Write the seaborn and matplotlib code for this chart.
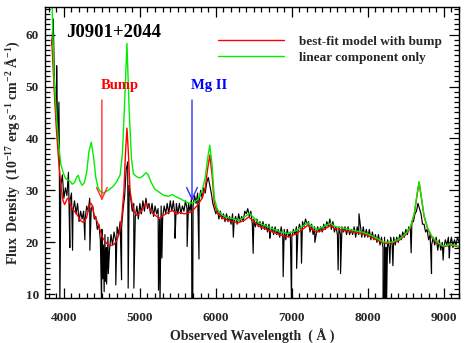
import numpy as np
import pandas as pd
import matplotlib
matplotlib.use("Agg")
import matplotlib.pyplot as plt
import seaborn as sns
from matplotlib.ticker import MultipleLocator

# ---------------- data ----------------
wl_start, wl_step = 3840, 20
flux = [
    58, 63, 48, 45, 38, 37, 31, 33, 28.5, 30.5,
    29, 33.5, 28, 29.5, 26, 28, 25.5, 27.5, 24, 26,
    24.5, 26, 24.5, 27, 26, 28.5, 26.5, 27, 24.5, 25,
    22.5, 23.5, 20.5, 22.5, 19.5, 21.5, 19, 21, 18.5, 21.5,
    19.5, 22, 20.5, 23, 21.5, 24, 23, 26.5, 29, 34,
    35.5, 31, 28.5, 26, 27.5, 25, 27, 24.5, 27.5, 25.5,
    28, 26, 28.5, 26.5, 27.5, 25.5, 27.5, 25, 27, 25.5,
    26.5, 24.5, 27, 25, 27, 25.5, 27.5, 25.5, 28, 26,
    28, 25.5, 27.5, 25.5, 27.5, 25.5, 27, 26, 28, 26.5,
    27.5, 26, 28.5, 27, 29, 27.5, 29.5, 28, 30, 28.5,
    30.5, 29.5, 31.5, 32.5, 31, 29.5, 27.5, 26.5, 25.5, 26.5,
    24.5, 26, 24.5, 25.5, 24, 25.5, 24, 25, 23.5, 25.5,
    24, 25, 23.5, 25.5, 24, 25, 24, 26, 25.5, 26.5,
    25, 26, 23.5, 24.5, 23, 24.5, 23, 24, 22.5, 24,
    22.5, 23.5, 22, 23.5, 22, 23, 21.5, 23, 21.5, 22.5,
    21, 23, 21, 22.5, 20.5, 22.5, 21, 22, 21, 22.5,
    21.5, 23, 22, 23.5, 22.5, 24, 23, 24.5, 23.5, 24,
    22, 23.5, 21.5, 23, 21.5, 23, 22, 23, 22, 23.5,
    22.5, 24, 23, 24.5, 22.5, 24, 22, 23, 21.5, 23,
    21.5, 23, 22, 23, 21.5, 23, 21.5, 22.5, 21.5, 23,
    21, 23, 21.5, 23.5, 21, 23, 21, 22.5, 21, 22.5,
    20.5, 22, 20.5, 21.5, 20, 21.5, 19.5, 21, 19, 21,
    19, 20.5, 19, 21, 19.5, 21, 19.5, 21, 20, 21.5,
    20.5, 22, 21, 22.5, 21.5, 23, 22.5, 24, 24, 25.5,
    26, 27.5, 26.5, 25.5, 23.5, 23.5, 22, 22.5, 20.5, 21.5,
    19.5, 21, 19.5, 21, 18.5, 20.5, 18.5, 20, 19, 20.5,
    19.5, 21, 19.5, 21, 19, 20.5, 19.5, 21, 20,
]
spike_wl = [3905, 3935, 3947, 4078, 4114, 4276, 4342, 4496, 4512, 4530,
            4548, 4562, 4585, 4683, 4759, 4846, 4921, 5245, 5265, 5290,
            5463, 5622, 5684, 5690, 5696, 5778, 6230, 6491, 6710, 6886,
            6996, 7063, 7127, 7303, 7609, 7641, 7884, 8201, 8215, 8232,
            8246, 8290, 8330, 8570, 8838, 8991, 9073]
spike_flux = [54, 47, 8, 19, 18.5, 20.5, 18.5, 8, 13, 10.5,
              12.5, 12, 14, 11.8, 12.8, 11.2, 11.2, 10.8, 8, 17,
              20.8, 19.2, 8, 8, 8, 16.8, 21, 17.9, 20.8, 13.4,
              8, 15, 16, 20, 14.7, 14, 25.5, 8, 8, 8,
              8, 16, 15.5, 18, 14, 16.6, 17]

red_wl = [3840, 3870, 3900, 3930, 3960, 3990, 4010, 4040, 4060, 4080,
          4110, 4150, 4180, 4220, 4260, 4300, 4330, 4350, 4370, 4400,
          4430, 4460, 4500, 4540, 4580, 4620, 4660, 4700, 4730, 4760,
          4790, 4810, 4830, 4850, 4870, 4900, 4930, 4960, 5000, 5040,
          5080, 5110, 5150, 5200, 5260, 5320, 5380, 5430, 5480, 5530,
          5580, 5640, 5700, 5760, 5820, 5860, 5890, 5920, 5950, 5980,
          6020, 6080, 6150, 6220, 6300, 6380, 6430, 6480, 6560, 6650,
          6750, 6850, 6950, 7050, 7150, 7210, 7270, 7330, 7400, 7470,
          7510, 7560, 7650, 7750, 7850, 7950, 8050, 8130, 8200, 8260,
          8330, 8420, 8500, 8560, 8610, 8650, 8675, 8700, 8740, 8790,
          8850, 8920, 8990, 9040, 9080, 9120, 9200]
red_flux = [59, 50, 42, 36, 31, 28, 27.3, 28.3, 28.6, 27.5,
            26.5, 25.8, 25.2, 24.2, 23.8, 24.8, 26.8, 27.6, 27.2, 25.2,
            24.3, 23.2, 21.2, 20.2, 19.6, 19.4, 19.6, 20.5, 21.8, 24.5,
            30, 37, 42, 37, 30, 27.2, 25.8, 25.2, 25.6, 26.5,
            27.6, 27, 25.9, 25.2, 24.7, 25.3, 25.8, 26.2, 25.4, 25.8,
            25.5, 25.6, 26.2, 27.2, 28.5, 30.5, 34, 36.8, 33, 27.5,
            25.6, 24.8, 24.3, 24.0, 23.8, 24.3, 24.9, 24.3, 23.2, 22.6,
            22.0, 21.4, 21.1, 21.6, 22.6, 23.3, 22.4, 22.0, 22.3, 22.9,
            23.3, 22.7, 22.4, 22.1, 21.9, 21.6, 21.0, 20.4, 19.9, 19.8,
            19.9, 20.5, 21.5, 22.8, 25.3, 29.3, 31.5, 29.0, 25.0, 22.5,
            20.8, 19.8, 19.2, 19.3, 19.6, 19.4, 19.1]

green_wl = [3840, 3870, 3900, 3930, 3960, 3990, 4020, 4050, 4080, 4110,
            4140, 4170, 4190, 4210, 4240, 4270, 4300, 4330, 4360, 4390,
            4420, 4450, 4480, 4520, 4560, 4600, 4650, 4700, 4740, 4770,
            4800, 4830, 4860, 4890, 4915, 4960, 5000, 5040, 5080, 5110,
            5150, 5200, 5260, 5320, 5380, 5430, 5470, 5520, 5580, 5640,
            5700, 5760, 5820, 5860, 5890, 5920, 5950, 5980, 6020, 6080,
            6140, 6220, 6300, 6380, 6440, 6490, 6560, 6650, 6750, 6850,
            6950, 7050, 7150, 7210, 7270, 7330, 7400, 7470, 7510, 7560,
            7650, 7750, 7850, 7950, 8050, 8130, 8200, 8260, 8330, 8420,
            8500, 8560, 8610, 8650, 8675, 8700, 8740, 8790, 8850, 8920,
            8990, 9040, 9080, 9120, 9200]
green_flux = [68, 52, 45, 39, 35, 33.5, 32.3, 32.0, 31.8, 31.2,
              31.5, 32.6, 32.9, 31.8, 31.0, 31.5, 33.5, 37.5, 39.3, 36.5,
              32.5, 30.5, 29.8, 29.5, 29.8, 30.2, 30.8, 31.8, 33.0, 37.0,
              47, 58.3, 45, 36, 33.2, 32.6, 32.4, 32.8, 33.4, 33.0,
              31.5, 30.2, 29.6, 29.0, 28.9, 29.2, 28.8, 28.5, 28.0, 27.6,
              27.6, 28.2, 30, 32.5, 36, 38.7, 35, 28.5, 26.3, 25.3,
              24.8, 24.6, 24.2, 24.9, 25.6, 24.9, 23.8, 23.2, 22.6, 22.0,
              21.7, 22.2, 23.2, 23.8, 23.0, 22.5, 22.9, 23.4, 23.7, 23.1,
              22.8, 22.5, 22.2, 21.9, 21.3, 20.7, 20.1, 20.0, 20.1, 20.7,
              21.7, 23.0, 25.5, 29.5, 31.7, 29.2, 25.2, 22.7, 21.0, 20.0,
              19.3, 19.4, 19.7, 19.5, 19.2]

bump_wl, mg2_wl = 4500, 5686
arrow_tip, arrow_top, label_y = 28.0, 47.4, 50.1

# ---------------- plotting ----------------
sns.set_theme(style="ticks")
plt.rcParams["font.family"] = ["Liberation Serif", "DejaVu Serif"]
plt.rcParams["font.weight"] = "bold"
plt.rcParams["axes.labelweight"] = "bold"
plt.rcParams["mathtext.fontset"] = "custom"
plt.rcParams["mathtext.rm"] = "Liberation Serif:bold"
plt.rcParams["mathtext.it"] = "Liberation Serif:bold"
plt.rcParams["mathtext.bf"] = "Liberation Serif:bold"
plt.rcParams["mathtext.default"] = "bf"

fig = plt.figure(figsize=(4.69, 3.43), dpi=100)
ax = fig.add_axes([0.0949, 0.1312, 0.8838, 0.8484])

wl = [wl_start + wl_step * i for i in range(len(flux))]
spec = pd.DataFrame({"wl": wl + spike_wl, "flux": flux + spike_flux}).sort_values("wl")
red = pd.DataFrame({"wl": red_wl, "flux": red_flux})
green = pd.DataFrame({"wl": green_wl, "flux": green_flux})

sns.lineplot(data=spec, x="wl", y="flux", color="black", lw=0.85,
             estimator=None, sort=False, ax=ax, legend=False)
sns.lineplot(data=red, x="wl", y="flux", color="#ff0000", lw=1.0,
             estimator=None, sort=False, ax=ax, label="best-fit model with bump")
sns.lineplot(data=green, x="wl", y="flux", color="#00ee00", lw=1.0,
             estimator=None, sort=False, ax=ax, label="linear component only")

ax.set_xlim(3745, 9200)
ax.set_ylim(9.3, 65.3)

# annotations
arrow_style = "->,head_length=0.7,head_width=0.32"
ax.annotate("", xy=(bump_wl, arrow_tip), xytext=(bump_wl, arrow_top),
            arrowprops=dict(arrowstyle=arrow_style, color="#ff3030", lw=1.0,
                            shrinkA=0, shrinkB=0))
ax.annotate("", xy=(mg2_wl, arrow_tip), xytext=(mg2_wl, arrow_top),
            arrowprops=dict(arrowstyle=arrow_style, color="#3030ff", lw=1.0,
                            shrinkA=0, shrinkB=0))
ax.text(bump_wl - 10, label_y, "Bump", color="red", fontsize=10.5,
        fontweight="bold", ha="left", va="center")
ax.text(mg2_wl - 10, label_y, "Mg II", color="#0000ff", fontsize=10.5,
        fontweight="bold", ha="left", va="center")
ax.text(4035, 60.3, "J0901+2044", fontsize=13.5, fontweight="bold",
        ha="left", va="center", color="black")

leg = ax.legend(loc="upper left", bbox_to_anchor=(0.419, 0.901), frameon=False,
                fontsize=9.5, handlelength=5.0, handletextpad=1.1,
                labelspacing=0.25, borderpad=0, borderaxespad=0)
for t in leg.get_texts():
    t.set_fontweight("bold")

ax.set_xlabel("Observed Wavelength  ( Å )", fontsize=10, fontweight="bold", labelpad=4)
ax.set_ylabel("Flux  Density  (10$^{-17}$ erg s$^{-1}$ cm$^{-2}$ Å$^{-1}$)",
              fontsize=10, fontweight="bold", labelpad=3)

ax.xaxis.set_major_locator(MultipleLocator(1000))
ax.xaxis.set_minor_locator(MultipleLocator(100))
ax.yaxis.set_major_locator(MultipleLocator(10))
ax.yaxis.set_minor_locator(MultipleLocator(1))
ax.tick_params(which="both", direction="in", top=True, right=True,
               color="black", width=0.9, labelsize=9.5)
ax.tick_params(which="major", length=7)
ax.tick_params(which="minor", length=3.5)
ax.tick_params(axis="x", which="major", pad=10)
ax.tick_params(axis="y", which="major", pad=4)
for lab in ax.get_xticklabels() + ax.get_yticklabels():
    lab.set_fontweight("bold")
for s in ax.spines.values():
    s.set_color("black")
    s.set_linewidth(1.0)

fig.savefig("out.png", dpi=100)
